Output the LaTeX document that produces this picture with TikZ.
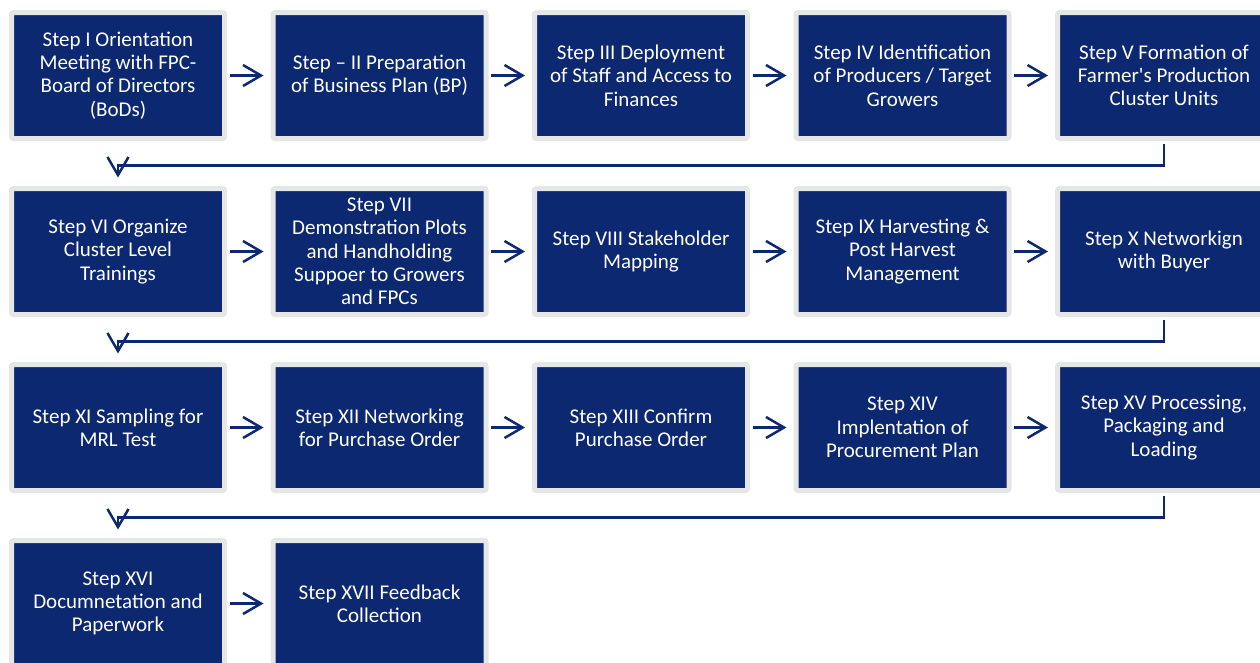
\documentclass[tikz,border=0pt]{standalone}
\usepackage{fontspec}
\setmainfont{Carlito}
\usetikzlibrary{arrows.meta}
\definecolor{navy}{RGB}{12,40,112}
\definecolor{rim}{RGB}{230,230,230}
\begin{document}
\begin{tikzpicture}[x=1pt,y=-1pt,
  stepbox/.style={draw=rim, fill=navy, line width=5pt, rounded corners=2pt,
    minimum width=213pt, minimum height=126pt, text=white, align=center,
    font=\fontsize{21}{23.3}\selectfont, inner sep=0pt},
  arr/.style={draw=navy, line width=2.5pt, -{Straight Barb[length=18pt,width=21pt]}},
  harr/.style={arr, shorten <=2.5pt, shorten >=7pt},
  varr/.style={arr, shorten <=2.5pt, shorten >=8.5pt}]
\useasboundingbox (0,0) rectangle (1260,662);
% row 1
\node[stepbox] (s1) at (118,75.5) {Step I Orientation\\Meeting with FPC-\\Board of Directors\\(BoDs)};
\node[stepbox] (s2) at (379.5,75.5) {Step -- II Preparation\\of Business Plan (BP)};
\node[stepbox] (s3) at (641,75.5) {Step III Deployment\\of Staff and Access to\\Finances};
\node[stepbox] (s4) at (902.5,75.5) {Step IV Identification\\of Producers / Target\\Growers};
\node[stepbox] (s5) at (1164,75.5) {Step V Formation of\\Farmer\textquotesingle s Production\\Cluster Units};
% row 2
\node[stepbox] (s6) at (118,251.5) {Step VI Organize\\Cluster Level\\Trainings};
\node[stepbox] (s7) at (379.5,251.5) {Step VII\\Demonstration Plots\\and Handholding\\Suppoer to Growers\\and FPCs};
\node[stepbox] (s8) at (641,251.5) {Step VIII Stakeholder\\Mapping};
\node[stepbox] (s9) at (902.5,251.5) {Step IX Harvesting \&\\Post Harvest\\Management};
\node[stepbox] (s10) at (1164,251.5) {Step X Networkign\\with Buyer};
% row 3
\node[stepbox] (s11) at (118,427.5) {Step XI Sampling for\\MRL Test};
\node[stepbox] (s12) at (379.5,427.5) {Step XII Networking\\for Purchase Order};
\node[stepbox] (s13) at (641,427.5) {Step XIII Confirm\\Purchase Order};
\node[stepbox] (s14) at (902.5,427.5) {Step XIV\\Implentation of\\Procurement Plan};
\node[stepbox] (s15) at (1164,427.5) {Step XV Processing,\\Packaging and\\Loading};
% row 4
\node[stepbox] (s16) at (118,603.5) {Step XVI\\Documnetation and\\Paperwork};
\node[stepbox] (s17) at (379.5,603.5) {Step XVII Feedback\\Collection};
% horizontal arrows
\foreach \a/\b in {s1/s2,s2/s3,s3/s4,s4/s5,s6/s7,s7/s8,s8/s9,s9/s10,s11/s12,s12/s13,s13/s14,s14/s15,s16/s17}
  \draw[harr] (\a.east) -- (\b.west);
% row connectors
\draw[varr] (s5.south) -- ++(0,24.5) -| (s6.north);
\draw[varr] (s10.south) -- ++(0,24.5) -| (s11.north);
\draw[varr] (s15.south) -- ++(0,24.5) -| (s16.north);
\end{tikzpicture}
\end{document}
